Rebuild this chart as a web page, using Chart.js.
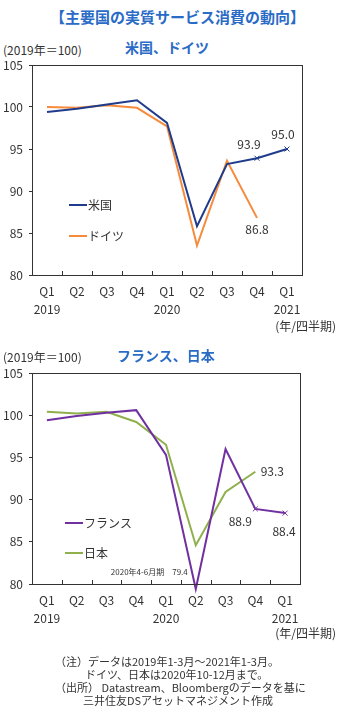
<!DOCTYPE html>
<html>
<head>
<meta charset="utf-8">
<script src="https://cdn.jsdelivr.net/npm/chart.js@4"></script>
<style>
    body { margin: 0; background: #fff; font-family: "Noto Sans CJK JP", sans-serif; }
    #wrap { position: relative; width: 344px; height: 711px; overflow: hidden; }
    .t { position: absolute; white-space: nowrap; color: #333; font-size: 11px; line-height: 14px; }
    .ttl { color: #2a6bc6; font-weight: bold; }
    canvas { position: absolute; left: 0; }
</style>
</head>
<body>
<div id="wrap">
    <div class="t ttl" style="left:50px;top:7px;font-size:15px;line-height:20px;">【主要国の実質サービス消費の動向】</div>

    <div class="t ttl" style="left:125px;top:38px;font-size:14px;line-height:18px;">米国、ドイツ</div>
    <div class="t" style="left:3px;top:43px;font-size:12px;">(2019年＝100)</div>
    <canvas id="chart1" width="344" height="262" style="top:60px"></canvas>
    <div class="t" style="right:8px;top:319px;font-size:12px;">(年/四半期)</div>

    <div class="t ttl" style="left:117px;top:346px;font-size:14px;line-height:18px;">フランス、日本</div>
    <div class="t" style="left:3px;top:350px;font-size:12px;">(2019年＝100)</div>
    <canvas id="chart2" width="344" height="262" style="top:368px"></canvas>
    <div class="t" style="right:8px;top:626px;font-size:12px;">(年/四半期)</div>

    <div class="t" style="left:55px;top:654px;">（注）データは2019年1-3月～2021年1-3月。</div>
    <div class="t" style="left:85px;top:667px;">ドイツ、日本は2020年10-12月まで。</div>
    <div class="t" style="left:55px;top:680px;">（出所） Datastream、Bloombergのデータを基に</div>
    <div class="t" style="left:83px;top:693px;">三井住友DSアセットマネジメント作成</div>
</div>
<script>
var quarters = ["Q1", "Q2", "Q3", "Q4", "Q1", "Q2", "Q3", "Q4", "Q1"];
var years = ["2019", "", "", "", "2020", "", "", "", "2021"];
var yTicks = [80, 85, 90, 95, 100, 105];

var usData = [99.4, 99.8, 100.3, 100.8, 98.1, 85.8, 93.2, 93.9, 95.0];
var deData = [100.0, 99.9, 100.2, 99.9, 97.7, 83.5, 93.6, 86.8, null];
var frData = [99.4, 99.9, 100.3, 100.6, 95.3, 79.4, 96.0, 88.9, 88.4];
var jpData = [100.4, 100.2, 100.4, 99.2, 96.5, 84.6, 90.9, 93.3, null];

var FONT = '"Noto Sans CJK JP", sans-serif';

// frame, inward ticks, value labels and in-plot legend
var decor = {
    id: "decor",
    afterDraw: function (chart) {
        var ctx = chart.ctx;
        var a = chart.chartArea;
        var x = chart.scales.x;
        var o = chart.options.plugins.decor;
        ctx.save();
        ctx.strokeStyle = "#333";
        ctx.lineWidth = 1;
        ctx.strokeRect(Math.round(a.left) + 0.5, Math.round(a.top) + 0.5, Math.round(a.right - a.left), Math.round(a.bottom - a.top));
        for (var i = 1; i < quarters.length; i++) {
            var px = Math.round((x.getPixelForTick(i - 1) + x.getPixelForTick(i)) / 2) + 0.5;
            ctx.beginPath();
            ctx.moveTo(px, a.bottom);
            ctx.lineTo(px, a.bottom - 4);
            ctx.stroke();
        }

        // value labels
        ctx.fillStyle = "#333";
        ctx.textBaseline = "middle";
        o.labels.forEach(function (l) {
            var pt = chart.getDatasetMeta(l.ds).data[l.idx];
            var v = chart.data.datasets[l.ds].data[l.idx];
            ctx.font = (l.size || 12) + "px " + FONT;
            ctx.textAlign = l.align || "center";
            ctx.fillText((l.prefix || "") + v.toFixed(1), pt.x + l.dx, pt.y + l.dy);
        });

        // legend
        chart.data.datasets.forEach(function (ds, i) {
            var lx = a.left + o.legend.x;
            var ly = a.top + o.legend.y + i * o.legend.gap;
            ctx.strokeStyle = ds.borderColor;
            ctx.lineWidth = 2;
            ctx.beginPath();
            ctx.moveTo(lx, ly);
            ctx.lineTo(lx + 18, ly);
            ctx.stroke();
            ctx.font = "12px " + FONT;
            ctx.textAlign = "left";
            ctx.fillStyle = "#333";
            ctx.fillText(ds.label, lx + 19, ly);
        });
        ctx.restore();
    }
};

function makeChart(id, sets, plotH, padRight, decorOpts) {
    var labels = quarters.map(function (q, i) { return [q, years[i]]; });
    return new Chart(document.getElementById(id), {
        type: "line",
        data: {
            labels: labels,
            datasets: sets.map(function (s) {
                return {
                    label: s.label,
                    data: s.data,
                    borderColor: s.color,
                    backgroundColor: s.color,
                    borderWidth: 2,
                    tension: 0,
                    clip: false,
                    pointStyle: "crossRot",
                    pointBorderWidth: 1,
                    pointRadius: s.data.map(function (v, i) { return s.marks && i >= 7 ? 3.5 : 0; }),
                    spanGaps: false
                };
            })
        },
        options: {
            responsive: false,
            animation: false,
            layout: { padding: { left: 0, top: 4, right: padRight, bottom: 0 } },
            plugins: {
                legend: { display: false },
                tooltip: { enabled: false },
                decor: decorOpts
            },
            scales: {
                x: {
                    offset: true,
                    grid: { display: false },
                    border: { display: false },
                    ticks: {
                        color: "#333",
                        font: { family: FONT, size: 12, lineHeight: 1.45 },
                        padding: 0,
                        maxRotation: 0,
                        autoSkip: false
                    },
                    afterFit: function (s) {
                        s.height = 262 - 4 - plotH;
                        s.paddingLeft = 0;
                        s.paddingRight = 0;
                    }
                },
                y: {
                    min: yTicks[0],
                    max: yTicks[yTicks.length - 1],
                    afterBuildTicks: function (s) { s.ticks = yTicks.map(function (v) { return { value: v }; }); },
                    grid: { drawOnChartArea: false, tickLength: 3, color: "#333" },
                    border: { display: false },
                    ticks: {
                        color: "#333",
                        font: { family: FONT, size: 12 },
                        padding: 6
                    },
                    afterFit: function (s) {
                        s.width = 32;
                        s.paddingTop = 0;
                        s.paddingBottom = 0;
                    }
                }
            }
        },
        plugins: [decor]
    });
}

makeChart("chart1", [
    { label: "米国", data: usData, color: "#1f3c8c", marks: true },
    { label: "ドイツ", data: deData, color: "#f68b3c" }
], 211, 42, {
    labels: [
        { ds: 0, idx: 7, dx: -8, dy: -14 },
        { ds: 0, idx: 8, dx: -4, dy: -15 },
        { ds: 1, idx: 7, dx: 0, dy: 12 }
    ],
    legend: { x: 37, y: 140, gap: 31 }
});

makeChart("chart2", [
    { label: "フランス", data: frData, color: "#7030a0", marks: true },
    { label: "日本", data: jpData, color: "#8fb04c" }
], 212, 44, {
    labels: [
        { ds: 1, idx: 7, dx: 17, dy: 0 },
        { ds: 0, idx: 7, dx: -15, dy: 13 },
        { ds: 0, idx: 8, dx: -1, dy: 18 },
        { ds: 0, idx: 5, dx: -8, dy: -17, size: 8, align: "right", prefix: "2020年4-6月期　" }
    ],
    legend: { x: 33, y: 150, gap: 30 }
});
</script>
</body>
</html>
